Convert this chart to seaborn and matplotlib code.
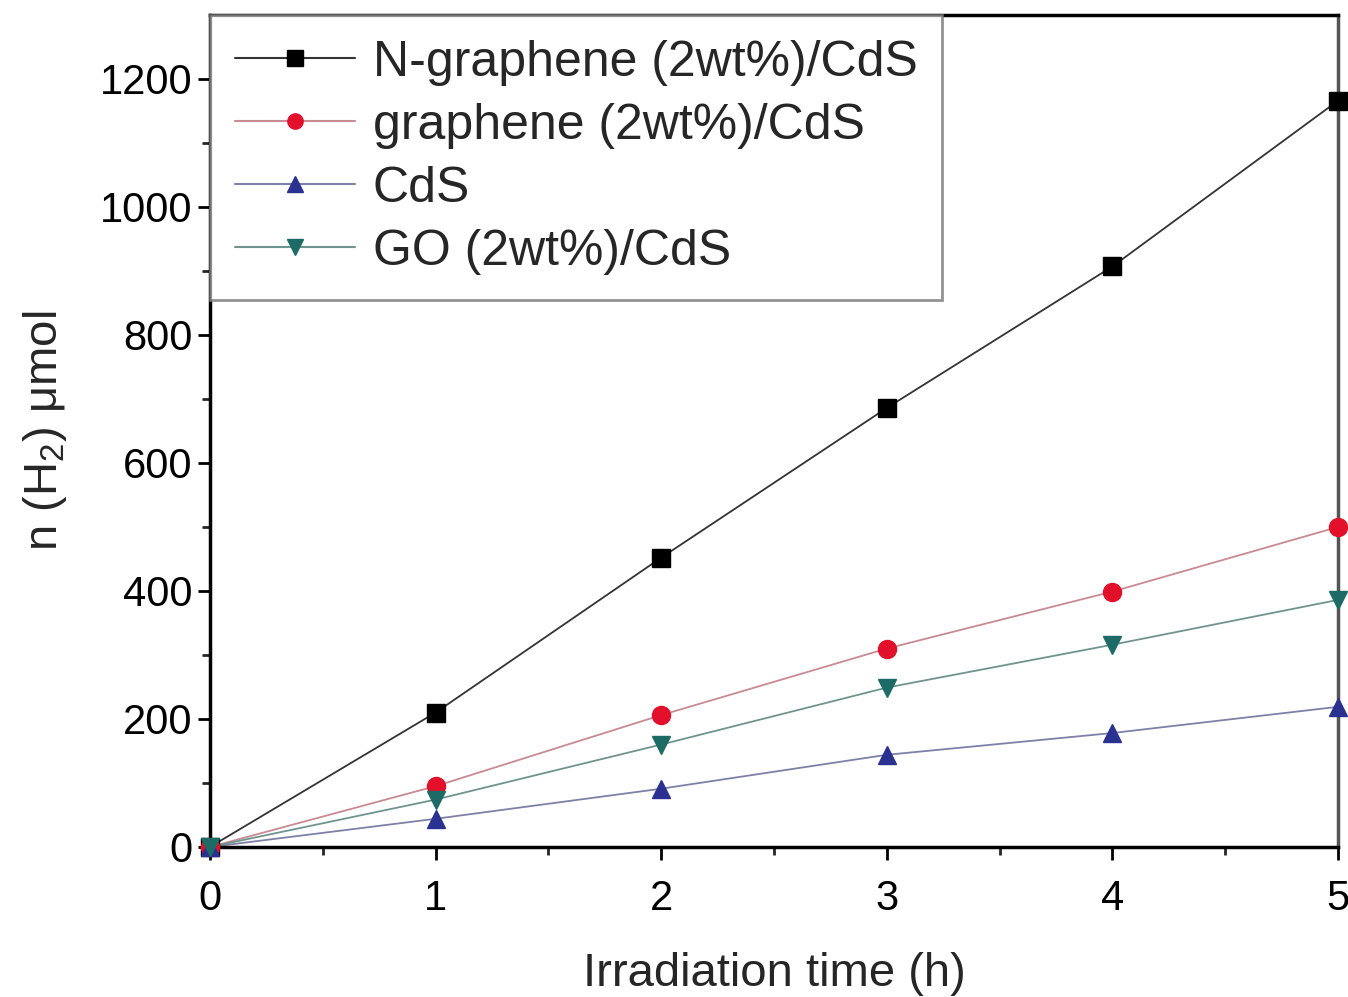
import numpy as np
import pandas as pd
import matplotlib
matplotlib.use("Agg")
import matplotlib.pyplot as plt
import seaborn as sns
from matplotlib.lines import Line2D

sns.set_theme(style="ticks")
plt.rcParams['font.family'] = ['Liberation Sans', 'DejaVu Sans']
plt.rcParams['mathtext.fontset'] = 'custom'
plt.rcParams['mathtext.rm'] = 'Liberation Sans'

time_h = [0, 1, 2, 3, 4, 5]
n_graphene = [0, 210, 452, 686, 907, 1166]
graphene = [0, 95, 206, 310, 399, 500]
cds = [0, 44, 91, 144, 178, 219]
go = [0, 74, 160, 249, 316, 386]

series_names = ["N-graphene (2wt%)/CdS", "graphene (2wt%)/CdS", "CdS", "GO (2wt%)/CdS"]
series_values = [n_graphene, graphene, cds, go]
colors = ["#000000", "#e3102c", "#2b3190", "#1d6b66"]
line_colors = ["#333333", "#c98a92", "#7d80a8", "#6f9490"]
markers = ["s", "o", "^", "v"]

df = pd.DataFrame({
    "time": np.tile(time_h, len(series_names)),
    "n": np.concatenate(series_values),
    "series": np.repeat(series_names, len(time_h)),
})

fig = plt.figure(figsize=(13.48, 9.97), dpi=100)
ax = fig.add_axes([0.1558, 0.1505, 0.8368, 0.8345])

sns.lineplot(data=df, x="time", y="n", hue="series", hue_order=series_names,
             palette=dict(zip(series_names, line_colors)), linewidth=1.3,
             legend=False, ax=ax, zorder=2)
for name, c, m in zip(series_names, colors, markers):
    sub = df[df["series"] == name]
    ax.plot(sub["time"], sub["n"], linestyle="none", marker=m, markersize=13,
            color=c, markeredgecolor=c, zorder=3, clip_on=False)

ax.set_xlim(0, 5)
ax.set_ylim(0, 1300)
ax.set_xticks([0, 1, 2, 3, 4, 5])
ax.set_yticks([0, 200, 400, 600, 800, 1000, 1200])
ax.set_xticks(np.arange(0.5, 5, 1), minor=True)
ax.set_yticks(np.arange(100, 1300, 200), minor=True)
ax.tick_params(axis='both', which='major', direction='out', length=9, width=2,
               labelsize=30, colors='black')
ax.tick_params(axis='x', which='major', pad=14)
ax.tick_params(axis='both', which='minor', direction='out', length=6, width=2)
for s in ax.spines.values():
    s.set_linewidth(2.5)
    s.set_color('black')
ax.spines['right'].set_color('#555555')

ax.set_xlabel("Irradiation time (h)", fontsize=34, labelpad=24)
ax.set_ylabel("n (H$_2$) μmol", fontsize=34, labelpad=22)

handles = [Line2D([0], [0], color=lc, marker=m, markersize=11, markerfacecolor=c,
                  markeredgecolor=c, linewidth=1.5)
           for lc, c, m in zip(line_colors, colors, markers)]
leg = ax.legend(handles, series_names, loc="upper left", bbox_to_anchor=(0.0, 1.0),
                fontsize=36, frameon=True, fancybox=False, borderaxespad=0.0,
                handlelength=2.4, handletextpad=0.35, labelspacing=0.34,
                borderpad=0.5)
leg.get_frame().set_edgecolor('#777777')
leg.get_frame().set_linewidth(2)

fig.savefig("out.png", dpi=100)
